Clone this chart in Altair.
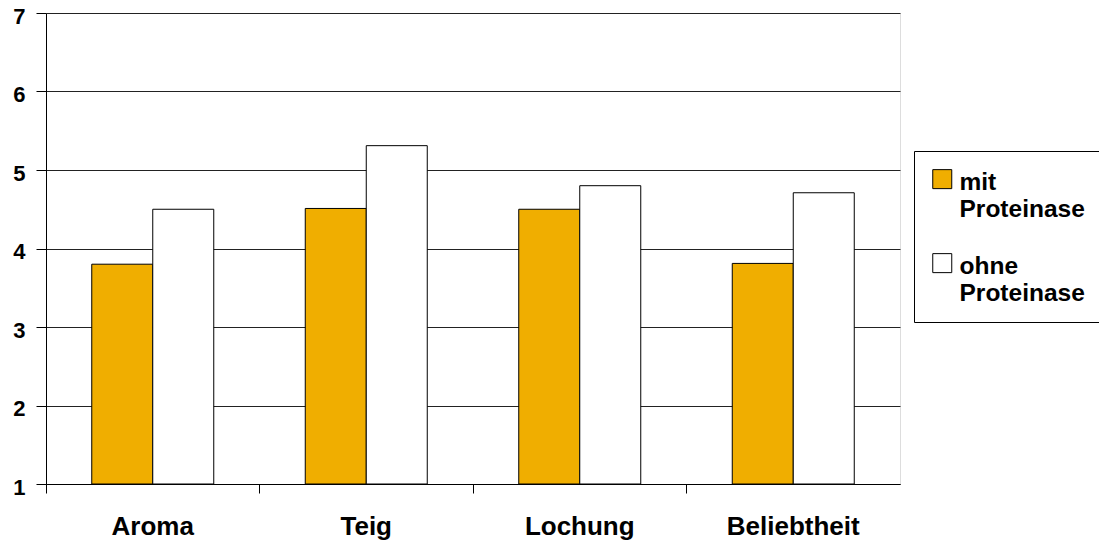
import altair as alt
import pandas as pd

categories = ["Aroma", "Teig", "Lochung", "Beliebtheit"]
series = ["mit Proteinase", "ohne Proteinase"]
mit = [3.80, 4.51, 4.50, 3.81]
ohne = [4.50, 5.31, 4.80, 4.71]
y_ticks = [1, 2, 3, 4, 5, 6, 7]
colors = ["#F0AE00", "#FFFFFF"]

rows = []
for c, a, b in zip(categories, mit, ohne):
    rows.append({"Kategorie": c, "Serie": series[0], "Wert": a})
    rows.append({"Kategorie": c, "Serie": series[1], "Wert": b})
df = pd.DataFrame(rows)

FONT = "Liberation Sans"

chart = alt.Chart(df).mark_bar(stroke="black", strokeWidth=1).encode(
    x=alt.X("Kategorie:N", sort=categories, title=None,
            scale=alt.Scale(paddingInner=0, paddingOuter=0),
            axis=alt.Axis(labelAngle=0, bandPosition=0, tickSize=9, tickColor="black",
                          domainColor="black", labelFont=FONT, labelFontSize=26,
                          labelFontWeight="bold", labelColor="black", labelPadding=20,
                          grid=False, labelBaseline="top")),
    xOffset=alt.XOffset("Serie:N", sort=series,
                        scale=alt.Scale(paddingInner=0, paddingOuter=0.75)),
    y=alt.Y("Wert:Q", title=None,
            scale=alt.Scale(domain=[1, 7], nice=False, zero=False),
            axis=alt.Axis(values=y_ticks, tickSize=10, tickColor="black",
                          domainColor="black", labelFont=FONT, labelFontSize=22,
                          labelFontWeight="bold", labelColor="black", labelPadding=11,
                          labelOffset=3,
                          grid=True, gridColor="#222222", gridWidth=1)),
    y2=alt.datum(1),
    fill=alt.Fill("Serie:N", sort=series,
                  scale=alt.Scale(domain=series, range=colors),
                  legend=alt.Legend(title=" ", titleFontSize=1, titlePadding=10,
                                    orient="none", legendX=868, legendY=138,
                                    symbolType="M-1,-2.17H1V-0.17H-1Z",
                                    symbolSize=361,
                                    symbolStrokeColor="black", symbolStrokeWidth=1,
                                    labelFont=FONT, labelFontSize=24.5, labelFontWeight="bold",
                                    labelColor="black", labelBaseline="alphabetic",
                                    labelExpr="split(datum.label, ' ')",
                                    labelLimit=300, rowPadding=29, padding=16,
                                    strokeColor="black", fillColor="white", labelOffset=5)),
).properties(
    width=854, height=471,
    autosize=alt.AutoSizeParams(type="none"),
    padding={"left": 38, "top": 5, "right": 199, "bottom": 57},
).configure_view(stroke="black", strokeWidth=1).configure(background="white")

chart.save("out.html", embed_options={"renderer": "svg", "actions": False})
